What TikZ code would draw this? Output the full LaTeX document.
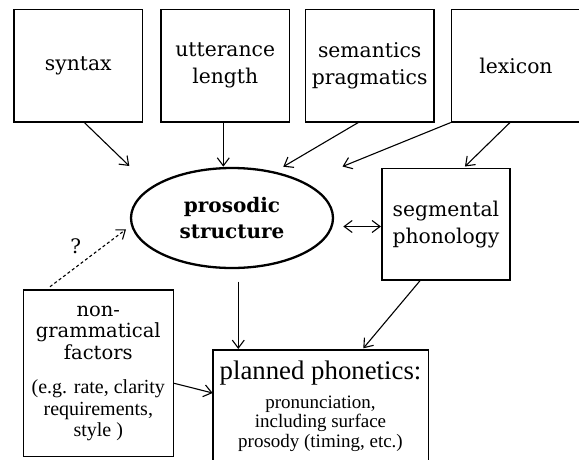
\documentclass[tikz,border=0pt]{standalone}
\usepackage{fontspec}
\setmainfont{DejaVu Serif}
\newfontfamily\timesfont{Liberation Serif}
\usetikzlibrary{shapes.geometric}
\usetikzlibrary{arrows.meta}
\usetikzlibrary{positioning}

\tikzset{
  labelbox/.style={draw, line width=1.6pt, inner sep=0pt, align=center,
    font=\fontsize{20.3}{27}\selectfont},
  topbox/.style={labelbox, minimum width=128.7, minimum height=112.4},
  arr/.style={line width=1.1pt, -{Straight Barb[length=8pt,width=12pt]}},
  arrboth/.style={line width=1.1pt, {Straight Barb[length=8pt,width=12pt]}-{Straight Barb[length=8pt,width=12pt]}},
}
\newcommand{\notesize}{\timesfont\fontsize{20}{21}\selectfont}
\newcommand{\tightlines}{\lineskiplimit=-20pt\relax}

\begin{document}
\begin{tikzpicture}[x=1pt,y=1pt,yscale=-1]
\useasboundingbox (0,0) rectangle (579,459);

%Shape: Rectangle [top row]
\node[topbox] (syntax) at (78.3,65.5) {syntax};
\node[topbox] (utter) at (225.2,65.5) {utterance\\length};
\node[topbox] (sem) at (369.7,65.5) {semantics\\pragmatics};
\node[topbox] (lex) at (516,65.5) {lexicon};

%Shape: Ellipse
\node[draw, ellipse, line width=2.3pt, minimum width=202, minimum height=100, inner sep=0pt,
  align=center, font=\bfseries\fontsize{20}{26.6}\selectfont] (prosodic) at (232,218) {prosodic\\structure};

%Shape: Rectangle
\node[labelbox, minimum width=128.3, minimum height=111.7] (seg) at (445.9,224.2) {segmental\\phonology};

%Shape: Rectangle
\node[draw, line width=1.6pt, minimum width=150, minimum height=166.7, inner sep=0pt, align=center,
  font=\fontsize{19.5}{21.5}\selectfont\tightlines] (nongram) at (98.3,373.3)
  {non-\\grammatical\\factors\\[13pt]{\notesize(e.g. rate, clarity}\\{\notesize requirements,}\\{\notesize style )}};

%Shape: Rectangle
\node[draw, line width=1.6pt, minimum width=215.6, minimum height=130, inner sep=0pt, anchor=north] (planned) at (320.5,349) {};
% Text Node
\node[below=12pt of planned.north, inner sep=0pt, align=center,
  font=\timesfont\fontsize{19}{19.5}\selectfont] (plannedtext)
  {{\fontsize{26.8}{26}\selectfont planned phonetics:}\\[9pt]pronunciation,\\including surface\\prosody (timing, etc.)};

% Text Node
\node[font=\fontsize{20}{24}\selectfont, inner sep=0pt] (qmark) at (75.7,246.7) {?};

% arrow ends
\coordinate (syntaxend) at (129.3,166);
\coordinate (utterend) at (223.3,166.7);
\coordinate (semend) at (283.3,166.7);
\coordinate (lexend) at (342.5,166.5);
\coordinate (dblend) at (343.3,226.5);
\coordinate (dashstart) at (50,286.7);
\coordinate (dashend) at (126,229.3);
\coordinate (prosout) at (238.3,281.7);
\coordinate (nongramend) at (212.7,393);
\coordinate (segend) at (363.3,348.3);

%Straight Lines
\draw[arr] ([xshift=6pt]syntax.south) -- (syntaxend);
\draw[arr] (utterend |- utter.south) -- (utterend);
\draw[arr] ([xshift=-11.4pt]sem.south) -- (semend);
\draw[arr] (lex.south west) -- (lexend);
\draw[arr, shorten >=1.5pt] ([xshift=-6pt]lex.south) -- ([xshift=18pt]seg.north);
\draw[arrboth] (dblend) -- (dblend -| seg.west);
\draw[arr, dashed, dash pattern=on 3pt off 2.5pt] (dashstart) -- (dashend);
\draw[arr] (prosout) -- (prosout |- planned.north);
\draw[arr] ([yshift=10pt]nongram.east) -- (nongramend);
\draw[arr] ([xshift=-26pt]seg.south) -- (segend);

\end{tikzpicture}
\end{document}
